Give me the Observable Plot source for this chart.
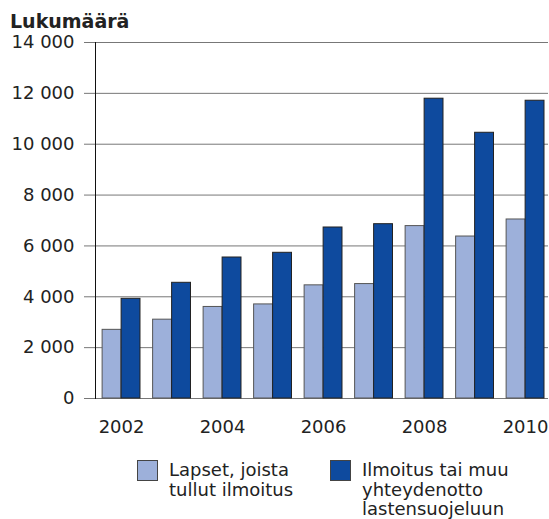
<!DOCTYPE html>
<html><head><meta charset="utf-8">
<script src="https://cdn.jsdelivr.net/npm/d3@7"></script>
<script src="https://cdn.jsdelivr.net/npm/@observablehq/plot@0.6"></script>
<style>
body{margin:0;background:#fff;font-family:"DejaVu Sans",Verdana,sans-serif;color:#222;}
#wrap{position:relative;width:549px;height:519px;overflow:hidden;}
#title{position:absolute;left:10px;top:10px;font-weight:bold;font-size:19px;line-height:normal;}
#chart{position:absolute;left:0;top:30px;}
#legend{position:absolute;top:460px;left:0;width:549px;height:59px;font-size:18px;line-height:19.5px;}
.item{position:absolute;top:0;}
.sw{position:absolute;top:0;left:0;width:21px;height:21px;border:1px solid #444;box-sizing:border-box;}
.lab{position:absolute;left:32px;top:0;white-space:nowrap;}
</style></head>
<body>
<div id="wrap">
  <div id="title">Lukumäärä</div>
  <div id="chart"></div>
  <div id="legend"></div>
</div>
<script>
const years = [2002, 2003, 2004, 2005, 2006, 2007, 2008, 2009, 2010];
const lapset = [2700, 3100, 3600, 3700, 4450, 4500, 6780, 6370, 7040];
const ilmoitus = [3920, 4550, 5545, 5730, 6725, 6855, 11790, 10450, 11710];
const yTicks = [0, 2000, 4000, 6000, 8000, 10000, 12000, 14000];
const xTickLabels = [2002, 2004, 2006, 2008, 2010];
const seriesNames = ["Lapset, joista\ntullut ilmoitus", "Ilmoitus tai muu\nyhteydenotto\nlastensuojeluun"];
const colors = ["#9db0da", "#0e4a9e"];

const rows = years.map((y, i) => ({year: y, lapset: lapset[i], ilmoitus: ilmoitus[i]}));
const fmt = d3.formatLocale({thousands: "\u00a0", grouping: [3], decimal: ",", currency: ["", ""]}).format(",d");

const chart = Plot.plot({
  width: 549, height: 420,
  marginTop: 12, marginBottom: 52, marginLeft: 95, marginRight: 1,
  style: {fontFamily: "DejaVu Sans, Verdana, sans-serif", fontSize: "18px", color: "#222", background: "#fff"},
  x: {type: "band", domain: years, paddingInner: 0.25, paddingOuter: 0.11, align: 0.64, round: false},
  y: {domain: [0, 14000]},
  marks: [
    Plot.ruleY(yTicks, {stroke: "#777", strokeWidth: 1}),
    Plot.barY(rows, {x: "year", y: "lapset", fill: colors[0], stroke: "#555", strokeWidth: 1, insetRight: 19}),
    Plot.barY(rows, {x: "year", y: "ilmoitus", fill: colors[1], stroke: "#222", strokeWidth: 1, insetLeft: 19}),
    Plot.axisY({ticks: yTicks, tickSize: 11, tickPadding: 10, tickFormat: fmt, label: null, stroke: "#777"}),
    Plot.axisX({ticks: xTickLabels, tickSize: 0, tickPadding: 22, tickFormat: d => String(d), label: null}),
    Plot.frame({anchor: "left", stroke: "#111"})
  ]
});
document.getElementById("chart").appendChild(chart);

const legend = document.getElementById("legend");
const lx = [137, 330];
seriesNames.forEach((name, i) => {
  const item = document.createElement("div");
  item.className = "item";
  item.style.left = lx[i] + "px";
  const sw = document.createElement("div");
  sw.className = "sw";
  sw.style.background = colors[i];
  const lab = document.createElement("div");
  lab.className = "lab";
  lab.innerHTML = name.split("\n").join("<br>");
  item.appendChild(sw); item.appendChild(lab);
  legend.appendChild(item);
});
</script>
</body></html>
